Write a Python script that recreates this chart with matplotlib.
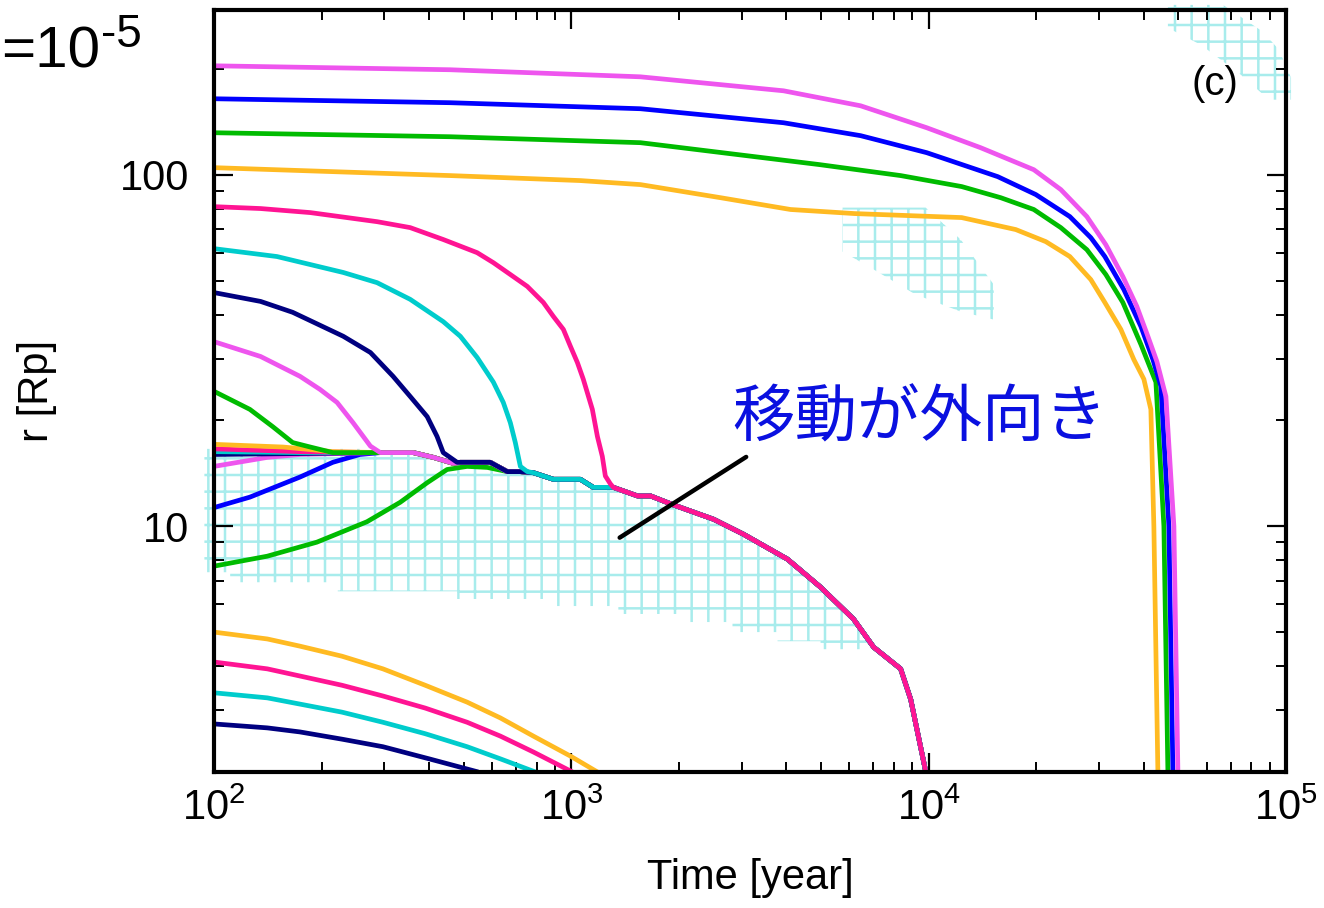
import matplotlib
matplotlib.use("Agg")
import matplotlib.pyplot as plt
from matplotlib.ticker import LogLocator, NullFormatter, FixedLocator, FixedFormatter

plt.rcParams['font.family'] = ['Liberation Sans', 'Noto Sans CJK JP', 'DejaVu Sans']
plt.rcParams['mathtext.fontset'] = 'custom'
plt.rcParams['mathtext.rm'] = 'Liberation Sans'
plt.rcParams['mathtext.default'] = 'regular'
plt.rcParams['hatch.linewidth'] = 1.8

VIOLET = '#ee55ee'
BLUE = '#0000ff'
GREEN = '#00bb00'
ORANGE = '#ffba22'
PINK = '#ff1493'
CYAN = '#00cccc'
NAVY = '#000080'
HATCH = '#a8ecec'

# ---------------- data ----------------
# common inward-migration track that the trapped satellites follow
track_x = [292, 361, 411, 467, 489, 593, 662, 720, 783, 891, 1060, 1152, 1311, 1531, 1665,
           1931, 2500, 3033, 4027, 4983, 6166, 7015, 8348, 8906, 9808, 9980]
track_y = [16.2, 16.2, 15.7, 15.1, 15.2, 15.2, 14.3, 14.3, 14.2, 13.6, 13.6, 12.9, 12.9, 12.2, 12.2,
           11.5, 10.47, 9.49, 8.06, 6.71, 5.44, 4.53, 3.93, 3.22, 2.01, 1.85]

# outer satellites (migrate inward at late times)
v1_x = [100, 458, 1561, 3925, 6450, 9872, 13980, 19690, 23430, 27710, 31320, 34950, 38240,
        41060, 43520, 46120, 48560, 49830]
v1_y = [204.0, 198.8, 189.8, 173.2, 157.0, 136.0, 119.3, 103.3, 90.7, 76.0, 63.2, 51.3, 42.2,
        34.7, 29.4, 23.4, 10.0, 2.0]
b1_x = [100, 458, 1561, 3925, 6450, 9872, 15610, 19940, 24830, 28430, 31120, 35180, 39260,
        42420, 44660, 47020, 48250]
b1_y = [164.4, 160.2, 154.0, 140.5, 129.1, 115.5, 98.7, 87.8, 76.0, 66.2, 58.5, 47.1, 37.0,
        29.8, 25.0, 10.0, 2.0]
g1_x = [100, 458, 1561, 4951, 8348, 12370, 15910, 19690, 23430, 27710, 31320, 34950, 39260,
        43240, 45530, 46720]
g1_y = [131.6, 128.2, 123.3, 106.8, 99.4, 92.5, 86.0, 79.6, 70.7, 61.2, 52.0, 43.3, 32.9,
        25.7, 10.0, 2.0]
o1_x = [100, 458, 1060, 1561, 2615, 4106, 6202, 12370, 17530, 21270, 24830, 28430, 31120,
        34500, 37510, 40020, 41860, 42680, 43800]
o1_y = [104.7, 99.4, 96.2, 93.7, 86.0, 79.6, 77.5, 75.5, 69.8, 64.5, 58.5, 50.3, 43.3,
        36.3, 29.8, 26.2, 21.5, 10.0, 2.0]

# middle satellites falling onto the track
p2_x = [100, 135, 186, 286, 354, 438, 545, 605, 675, 753, 835, 891, 950, 994, 1040, 1080,
        1145, 1183, 1221, 1245, 1286, 1311]
p2_y = [81.1, 80.1, 78.0, 73.5, 70.7, 65.4, 60.0, 56.2, 52.0, 48.1, 43.3, 39.5, 36.3, 32.5,
        29.2, 26.2, 21.5, 18.0, 15.8, 13.9, 13.2, 12.9]
c2_x = [100, 150, 230, 286, 354, 438, 489, 545, 605, 645, 675, 697, 720, 753]
c2_y = [61.6, 58.5, 52.7, 49.3, 44.2, 38.2, 34.7, 30.2, 25.7, 22.5, 19.7, 17.3, 14.8, 14.3]
n2_x = [100, 135, 166, 230, 274, 317, 354, 395, 421, 438, 479, 489]
n2_y = [46.2, 43.6, 40.6, 34.7, 31.2, 26.7, 23.4, 20.5, 18.0, 16.2, 15.2, 15.2]
v2_x = [100, 135, 174, 198, 221, 245, 274, 292]
v2_y = [33.5, 30.4, 26.7, 24.5, 22.5, 19.7, 16.9, 16.2]
g2_x = [100, 126, 146, 166, 186, 215, 292]
g2_y = [24.2, 21.5, 19.2, 17.3, 16.8, 16.2, 16.2]
o2_x = [100, 156, 215, 292]
o2_y = [17.1, 16.8, 16.3, 16.2]
p3_x = [100, 174, 292]
p3_y = [16.6, 16.3, 16.2]
c3_x = [100, 174, 292]
c3_y = [16.3, 16.2, 16.2]
n3_x = [100, 174, 292]
n3_y = [16.0, 16.1, 16.2]
v3_x = [100, 141, 174, 292]
v3_y = [14.8, 15.7, 16.0, 16.2]
b3_x = [100, 126, 174, 215, 256, 292]
b3_y = [11.3, 12.1, 13.8, 15.2, 16.0, 16.2]
g3_x = [100, 141, 194, 268, 332, 395, 449, 511, 582, 662]
g3_y = [7.70, 8.22, 9.01, 10.3, 11.7, 13.3, 14.5, 14.8, 14.7, 14.3]

# inner satellites
o4_x = [100, 141, 174, 228, 297, 390, 511, 633, 783, 994, 1183]
o4_y = [5.00, 4.78, 4.56, 4.27, 3.93, 3.53, 3.16, 2.85, 2.53, 2.22, 2.0]
p4_x = [100, 141, 174, 228, 297, 390, 511, 633, 783, 1007]
p4_y = [4.11, 3.93, 3.75, 3.53, 3.29, 3.04, 2.77, 2.53, 2.28, 2.0]
c4_x = [100, 141, 174, 228, 297, 390, 511, 633, 793]
c4_y = [3.36, 3.25, 3.12, 2.96, 2.77, 2.57, 2.36, 2.18, 2.0]
n4_x = [100, 141, 174, 228, 297, 400, 549]
n4_y = [2.74, 2.67, 2.60, 2.48, 2.36, 2.18, 2.0]

# outward-migration zones (hatched)
zone_a_x = [94, 292, 361, 411, 467, 593, 662, 720, 783, 891, 1060, 1152, 1311, 1531, 1665, 1931,
            2500, 3033, 4027, 4983, 6166, 6749,
            6749, 4983, 4983, 3776, 3776, 2825, 2825, 2127, 2127, 1354, 1354, 857, 857,
            479, 479, 222, 222, 111, 111, 94]
zone_a_y = [16.6, 16.6, 16.2, 15.7, 15.0, 15.0, 14.3, 14.3, 14.2, 13.6, 13.6, 12.9, 12.9, 12.2, 12.2, 11.5,
            10.47, 9.49, 8.06, 6.71, 5.44, 4.8,
            4.47, 4.47, 4.71, 4.71, 5.0, 5.0, 5.34, 5.34, 5.63, 5.63, 5.93, 5.93, 6.21,
            6.21, 6.53, 6.53, 6.93, 6.93, 7.4, 7.4]
zone_b_x = [5743, 9808, 12290, 15210, 15210, 12290, 9196, 6878, 5743]
zone_b_y = [80.6, 80.6, 65.4, 48.7, 38.7, 40.8, 45.6, 54.4, 60.4]
zone_c_x = [46720, 66620, 86220, 95590, 103300, 103300, 89620, 74790, 57800, 46720]
zone_c_y = [304, 304, 254.9, 226.5, 188.6, 163.4, 163.4, 192.3, 234.0, 261.5]

x_ticks = [1e2, 1e3, 1e4, 1e5]
x_tick_labels = [r'$\mathregular{10^{2}}$', r'$\mathregular{10^{3}}$',
                 r'$\mathregular{10^{4}}$', r'$\mathregular{10^{5}}$']
y_ticks = [10, 100]
y_tick_labels = ['10', '100']


def with_track(xs, ys):
    last = xs[-1]
    ex = [x for x in track_x if x > last]
    ey = [y for x, y in zip(track_x, track_y) if x > last]
    return list(xs) + ex, list(ys) + ey


# ---------------- figure ----------------
fig = plt.figure(figsize=(13.24, 9.08), dpi=100)
ax = fig.add_axes([214 / 1324, 1 - 772 / 908, (1286 - 214) / 1324, (772 - 10) / 908])
ax.set_xscale('log')
ax.set_yscale('log')
ax.set_xlim(100, 1e5)
ax.set_ylim(2.0, 294)

for zx, zy in [(zone_a_x, zone_a_y), (zone_b_x, zone_b_y), (zone_c_x, zone_c_y)]:
    ax.fill(zx, zy, facecolor='none', edgecolor=HATCH, hatch='+', linewidth=0,
            clip_on=False, zorder=1)

LW = 3.4
# inner ones
for xs, ys, c in [(o4_x, o4_y, ORANGE), (p4_x, p4_y, PINK), (c4_x, c4_y, CYAN), (n4_x, n4_y, NAVY)]:
    ax.plot(xs, ys, color=c, lw=LW, zorder=3, solid_capstyle='butt', solid_joinstyle='round')

# curves that join the track (drawn in visual stacking order)
merging = [
    (g3_x, g3_y, GREEN), (b3_x, b3_y, BLUE), (v3_x, v3_y, VIOLET),
    (n3_x, n3_y, NAVY), (c3_x, c3_y, CYAN), (p3_x, p3_y, PINK), (o2_x, o2_y, ORANGE),
    (g2_x, g2_y, GREEN), (v2_x, v2_y, VIOLET), (n2_x, n2_y, NAVY),
    (c2_x, c2_y, CYAN), (p2_x, p2_y, PINK),
]
for xs, ys, c in merging:
    fx, fy = with_track(xs, ys)
    ax.plot(fx, fy, color=c, lw=LW, zorder=3, solid_joinstyle='round')

# outer ones
for xs, ys, c in [(o1_x, o1_y, ORANGE), (g1_x, g1_y, GREEN), (b1_x, b1_y, BLUE), (v1_x, v1_y, VIOLET)]:
    ax.plot(xs, ys, color=c, lw=LW, zorder=3, solid_joinstyle='round')

# ticks
ax.xaxis.set_major_locator(FixedLocator(x_ticks))
ax.xaxis.set_major_formatter(FixedFormatter(x_tick_labels))
ax.xaxis.set_minor_locator(LogLocator(base=10, subs=range(2, 10), numticks=20))
ax.xaxis.set_minor_formatter(NullFormatter())
ax.yaxis.set_major_locator(FixedLocator(y_ticks))
ax.yaxis.set_major_formatter(FixedFormatter(y_tick_labels))
ax.yaxis.set_minor_locator(LogLocator(base=10, subs=range(2, 10), numticks=20))
ax.yaxis.set_minor_formatter(NullFormatter())

ax.tick_params(which='both', direction='in', top=True, right=True, colors='black')
ax.tick_params(which='major', length=14, width=1.6, labelsize=30)
ax.tick_params(which='minor', length=7, width=1.4)
ax.tick_params(axis='y', which='major', pad=18)
ax.tick_params(axis='x', which='major', pad=12)
for s in ax.spines.values():
    s.set_linewidth(3.0)
    s.set_zorder(5)

ax.set_xlabel('Time [year]', fontsize=30)
ax.set_ylabel('r [Rp]', fontsize=30)
ax.xaxis.set_label_coords(0.5, -0.113)
ax.yaxis.set_label_coords(-0.146, 0.5)

# annotations
ax.text(0.934, 0.903, '(c)', transform=ax.transAxes, ha='center', va='center', fontsize=29)
ax.annotate('', xy=(1345, 9.19), xytext=(3132, 15.9),
            arrowprops=dict(arrowstyle='-', color='black', lw=3.2), zorder=6)
ax.text(9436, 18.0, '移動が外向き', ha='center', va='baseline', fontsize=45,
        color='#0a10e0', family=['Noto Sans CJK JP', 'DejaVu Sans'], zorder=6)

fig.text(1 / 1324, 1 - 67 / 908, '=10', ha='left', va='baseline', fontsize=42)
fig.text(101 / 1324, 1 - 47 / 908, '-5', ha='left', va='baseline', fontsize=33)

fig.savefig('out.png', dpi=100)
